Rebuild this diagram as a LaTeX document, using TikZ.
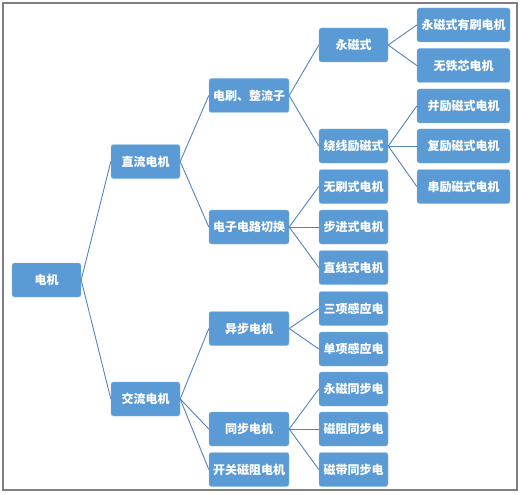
\documentclass[tikz,border=0pt]{standalone}
\usepackage{fontspec}
\setmainfont{Noto Sans CJK SC}
\usepackage{tikz}
\usetikzlibrary{positioning}
\definecolor{boxblue}{HTML}{5B9BD5}
\definecolor{boxedge}{HTML}{8DB8E3}
\definecolor{linkblue}{HTML}{5283C0}
\definecolor{framegray}{HTML}{7F7F7F}
\tikzset{
  mbox/.style={
    rectangle, rounded corners=2.5pt, draw=boxedge, fill=boxblue,
    text=white, font=\fontsize{12}{14}\selectfont\bfseries,
    minimum width=#1, minimum height=34pt,
    inner sep=1pt
  },
  mbox/.default=69pt,
  link/.style={draw=linkblue, line width=0.9pt},
}

\begin{document}
\begin{tikzpicture}[x=1pt, y=-1pt]
\useasboundingbox (0,0) rectangle (520,495);
\draw[framegray, line width=1.2pt] (3,3) rectangle (517,490);

% level 0 and 1
\node[mbox] (motor) at (46.5,280) {电机};
\node[mbox] (dc) at (145.5,161.5) {直流电机};
\node[mbox] (ac) at (145.5,399) {交流电机};

% level 2
\node[mbox=80pt] (brush) at (249,95.5) {电刷、整流子};
\node[mbox=80pt] (elec) at (249,227) {电子电路切换};
\node[mbox=80pt] (async) at (249,328.5) {异步电机};
\node[mbox=80pt] (sync) at (249,429) {同步电机};
\node[mbox=80pt] (srm) at (249,469.5) {开关磁阻电机};

% level 3
\node[mbox] (pm) at (353.5,45) {永磁式};
\node[mbox] (wound) at (353.5,146) {绕线励磁式};
\node[mbox] (bldc) at (353.5,186.5) {无刷式电机};
\node[mbox] (stepper) at (353.5,227) {步进式电机};
\node[mbox] (linear) at (353.5,267.5) {直线式电机};
\node[mbox] (threeph) at (353.5,308.5) {三项感应电};
\node[mbox] (singleph) at (353.5,349) {单项感应电};
\node[mbox] (pmsync) at (353.5,389) {永磁同步电};
\node[mbox] (relsync) at (353.5,429) {磁阻同步电};
\node[mbox] (tapesync) at (353.5,469.5) {磁带同步电};

% level 4
\node[mbox=93pt] (pmbrush) at (463.5,25) {永磁式有刷电机};
\node[mbox=93pt] (coreless) at (463.5,65.5) {无铁芯电机};
\node[mbox=93pt] (shunt) at (463.5,106) {并励磁式电机};
\node[mbox=93pt] (compound) at (463.5,146) {复励磁式电机};
\node[mbox=93pt] (series) at (463.5,186.5) {串励磁式电机};

% connectors
\foreach \from/\to in {motor/dc, motor/ac,
    dc/brush, dc/elec, ac/async, ac/sync, ac/srm,
    brush/pm, brush/wound, elec/bldc, elec/stepper, elec/linear,
    async/threeph, async/singleph,
    sync/pmsync, sync/relsync, sync/tapesync,
    pm/pmbrush, pm/coreless,
    wound/shunt, wound/compound, wound/series}
  \draw[link] (\from.east) -- (\to.west);
\end{tikzpicture}
\end{document}
